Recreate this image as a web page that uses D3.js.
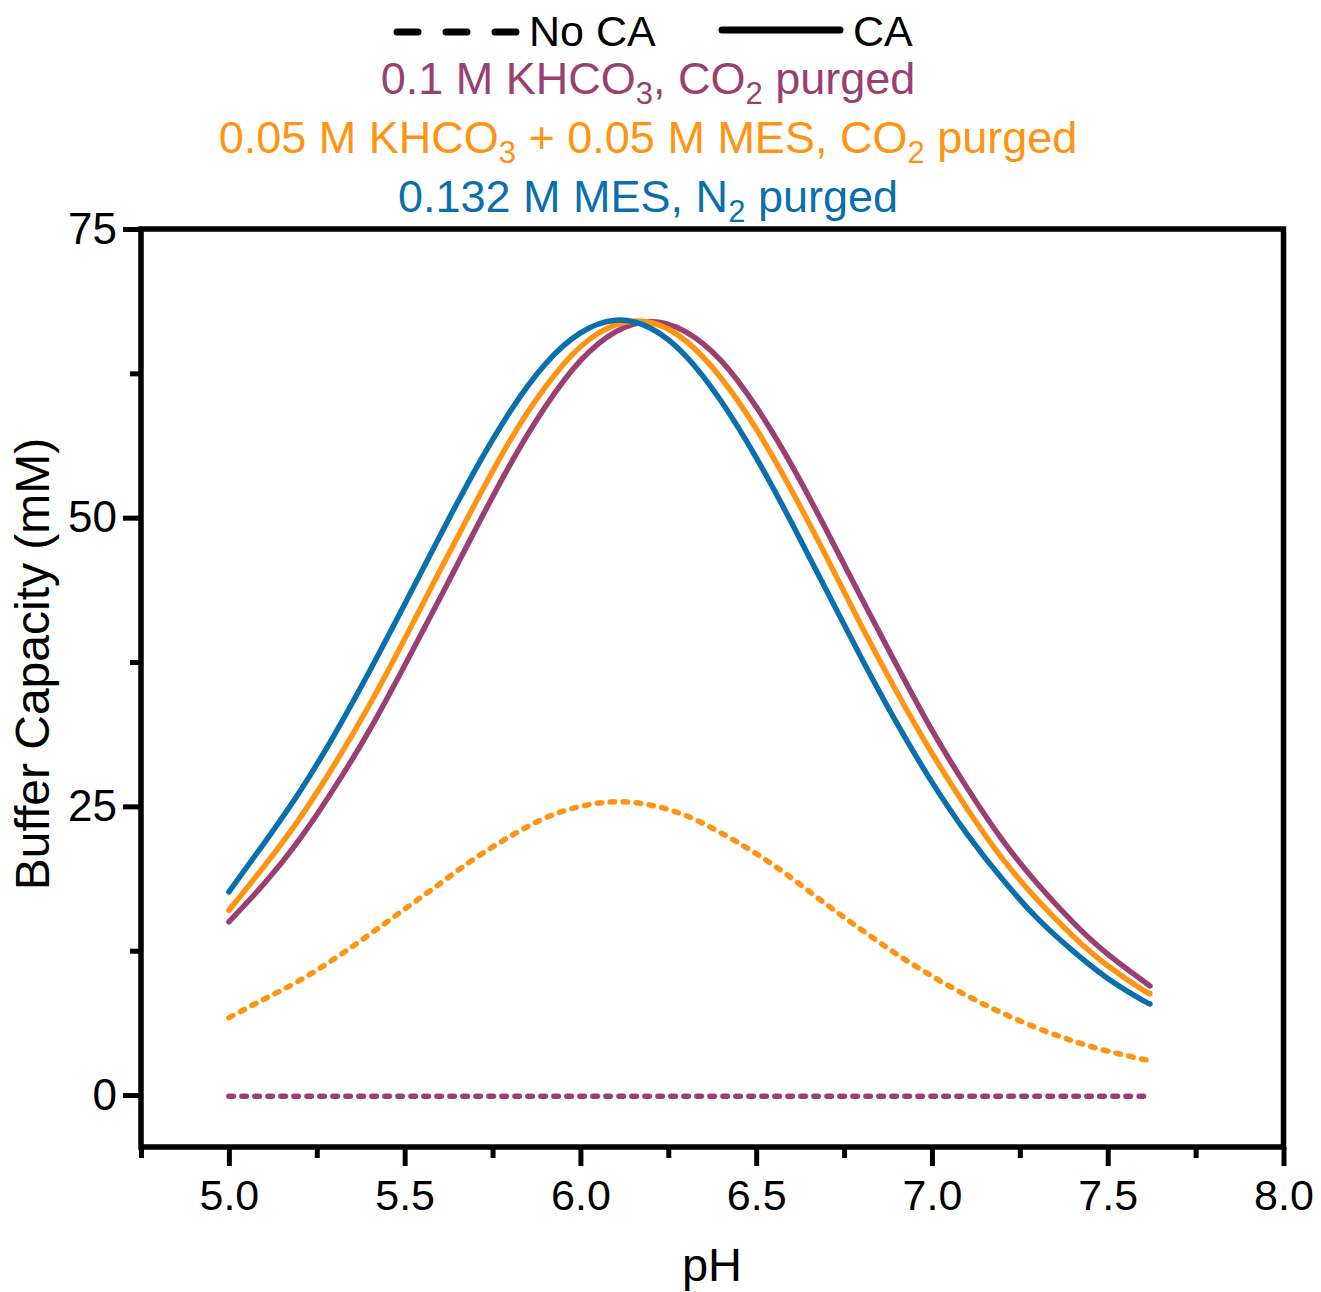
<!DOCTYPE html>
<html>
<head>
<meta charset="utf-8">
<script src="https://cdn.jsdelivr.net/npm/d3@7"></script>
<style>
  body { margin: 0; background: #fff; }
  svg { display: block; font-family: "Liberation Sans", Arial, sans-serif; }
</style>
</head>
<body>
<div id="chart"></div>
<script>
// pH values (x)
var pH = [5.0, 5.1, 5.2, 5.3, 5.4, 5.5, 5.6, 5.7, 5.8, 5.9, 6.0, 6.1, 6.2, 6.3, 6.4,
          6.5, 6.6, 6.7, 6.8, 6.9, 7.0, 7.1, 7.2, 7.3, 7.4, 7.5, 7.6, 7.62];

// buffer capacity (mM), with CA (solid lines)
var caKHCO3 = [15.0, 18.3, 22.1, 26.6, 31.6, 37.2, 43.0, 48.9, 54.6, 59.6, 63.6, 66.1, 67.0, 66.1, 63.6,
               59.6, 54.6, 48.9, 43.0, 37.2, 31.6, 26.6, 22.1, 18.3, 15.0, 12.2, 9.9, 9.45];
var caMix =   [16.0, 19.8, 23.9, 28.6, 33.8, 39.5, 45.4, 51.2, 56.7, 61.3, 64.8, 66.7, 66.9, 65.3, 62.1,
               57.7, 52.4, 46.6, 40.6, 34.9, 29.6, 24.8, 20.5, 16.9, 13.8, 11.2, 9.1, 8.8];
var caMES =   [17.6, 21.8, 26.2, 31.2, 36.7, 42.5, 48.4, 54.1, 59.2, 63.3, 66.0, 67.1, 66.4, 64.0, 60.1,
               55.2, 49.6, 43.7, 37.8, 32.2, 27.1, 22.6, 18.7, 15.3, 12.5, 10.1, 8.2, 7.9];

// without CA (dashed lines)
var noCaMix =   [6.7, 8.3, 9.9, 11.8, 13.9, 16.1, 18.3, 20.5, 22.4, 24.0, 25.0, 25.4, 25.1, 24.2, 22.7,
                 20.9, 18.8, 16.5, 14.3, 12.2, 10.3, 8.6, 7.1, 5.8, 4.7, 3.8, 3.1, 2.95];
var noCaKHCO3 = [-0.1, -0.1, -0.1, -0.1, -0.1, -0.1, -0.1, -0.1, -0.1, -0.1, -0.1, -0.1, -0.1, -0.1, -0.1,
                 -0.1, -0.1, -0.1, -0.1, -0.1, -0.1, -0.1, -0.1, -0.1, -0.1, -0.1, -0.1, -0.1];

var xMajor = [5.0, 5.5, 6.0, 6.5, 7.0, 7.5, 8.0];
var xMinor = [4.75, 5.25, 5.75, 6.25, 6.75, 7.25, 7.75];
var yMajor = [0, 25, 50, 75];
var yMinor = [12.5, 37.5, 62.5];

var purple = "#993f74", orange = "#ff9412", blue = "#0a70ad";

var width = 1321, height = 1292;
var plot = {left: 141, right: 1283.5, top: 229, bottom: 1147};

var svg = d3.select("#chart").append("svg")
    .attr("width", width)
    .attr("height", height);

var x = d3.scaleLinear().domain([4.75, 8.0]).range([plot.left, plot.right]);
var y = d3.scaleLinear().domain([-4.5, 75]).range([plot.bottom, plot.top]);

// axes: minor ticks first, then major ticks with labels
svg.append("g")
    .attr("transform", `translate(0,${plot.bottom})`)
    .call(d3.axisBottom(x).tickValues(xMinor).tickSize(11).tickFormat(""))
    .call(g => g.select(".domain").remove())
    .call(g => g.selectAll("line").attr("stroke-width", 5));
svg.append("g")
    .attr("transform", `translate(0,${plot.bottom})`)
    .call(d3.axisBottom(x).tickValues(xMajor).tickSize(19).tickPadding(13).tickFormat(d3.format(".1f")))
    .call(g => g.select(".domain").remove())
    .call(g => g.selectAll("line").attr("stroke-width", 5))
    .call(g => g.selectAll("text").attr("font-size", 43).attr("fill", "#000"));

svg.append("g")
    .attr("transform", `translate(${plot.left},0)`)
    .call(d3.axisLeft(y).tickValues(yMinor).tickSize(11).tickFormat(""))
    .call(g => g.select(".domain").remove())
    .call(g => g.selectAll("line").attr("stroke-width", 5));
svg.append("g")
    .attr("transform", `translate(${plot.left},0)`)
    .call(d3.axisLeft(y).tickValues(yMajor).tickSize(18).tickPadding(6).tickFormat(d3.format("d")))
    .call(g => g.select(".domain").remove())
    .call(g => g.selectAll("line").attr("stroke-width", 5))
    .call(g => g.selectAll("text").attr("font-size", 44).attr("fill", "#000"));

// frame
svg.append("rect")
    .attr("x", plot.left).attr("y", plot.top)
    .attr("width", plot.right - plot.left).attr("height", plot.bottom - plot.top)
    .attr("fill", "none").attr("stroke", "#000").attr("stroke-width", 5.5);

// axis titles
svg.append("text")
    .attr("x", 712).attr("y", 1281)
    .attr("text-anchor", "middle")
    .attr("font-size", 47)
    .text("pH");
svg.append("text")
    .attr("transform", "translate(49,664) rotate(-90)")
    .attr("text-anchor", "middle")
    .attr("font-size", 48)
    .text("Buffer Capacity (mM)");

// curves
var line = d3.line()
    .x(function(d) { return x(d[0]); })
    .y(function(d) { return y(d[1]); })
    .curve(d3.curveNatural);

var series = [
    {values: noCaKHCO3, color: purple, dash: "4.5,8.5"},
    {values: noCaMix, color: orange, dash: "4.5,8.5"},
    {values: caKHCO3, color: purple, dash: null},
    {values: caMix, color: orange, dash: null},
    {values: caMES, color: blue, dash: null}
];

series.forEach(function(s) {
    svg.append("path")
        .datum(pH.map(function(p, i) { return [p, s.values[i]]; }))
        .attr("d", line)
        .attr("fill", "none")
        .attr("stroke", s.color)
        .attr("stroke-width", 5.5)
        .attr("stroke-linecap", "round")
        .attr("stroke-dasharray", s.dash);
});

// legend
var leg = svg.append("g");
leg.append("line")
    .attr("x1", 397).attr("x2", 518).attr("y1", 32).attr("y2", 32)
    .attr("stroke", "#000").attr("stroke-width", 7)
    .attr("stroke-linecap", "round")
    .attr("stroke-dasharray", "21,28");
leg.append("text").attr("x", 529).attr("y", 46).attr("font-size", 43).text("No CA");
leg.append("line")
    .attr("x1", 722).attr("x2", 840).attr("y1", 30).attr("y2", 30)
    .attr("stroke", "#000").attr("stroke-width", 7)
    .attr("stroke-linecap", "round");
leg.append("text").attr("x", 853).attr("y", 46).attr("font-size", 43).text("CA");

var legendRows = [
    {color: purple, y: 94, parts: [["0.1 M KHCO"], ["3", "sub"], [", CO"], ["2", "sub"], [" purged"]]},
    {color: orange, y: 153, parts: [["0.05 M KHCO"], ["3", "sub"], [" + 0.05 M MES, CO"], ["2", "sub"], [" purged"]]},
    {color: blue, y: 212, parts: [["0.132 M MES, N"], ["2", "sub"], [" purged"]]}
];

legendRows.forEach(function(r) {
    var t = leg.append("text")
        .attr("x", 648).attr("y", r.y)
        .attr("text-anchor", "middle")
        .attr("font-size", 45)
        .attr("fill", r.color);
    var shifted = false;
    r.parts.forEach(function(p) {
        var ts = t.append("tspan").text(p[0]);
        if (p[1] === "sub") {
            ts.attr("font-size", 31).attr("dy", 10);
            shifted = true;
        } else if (shifted) {
            ts.attr("dy", -10);
            shifted = false;
        }
    });
});
</script>
</body>
</html>
